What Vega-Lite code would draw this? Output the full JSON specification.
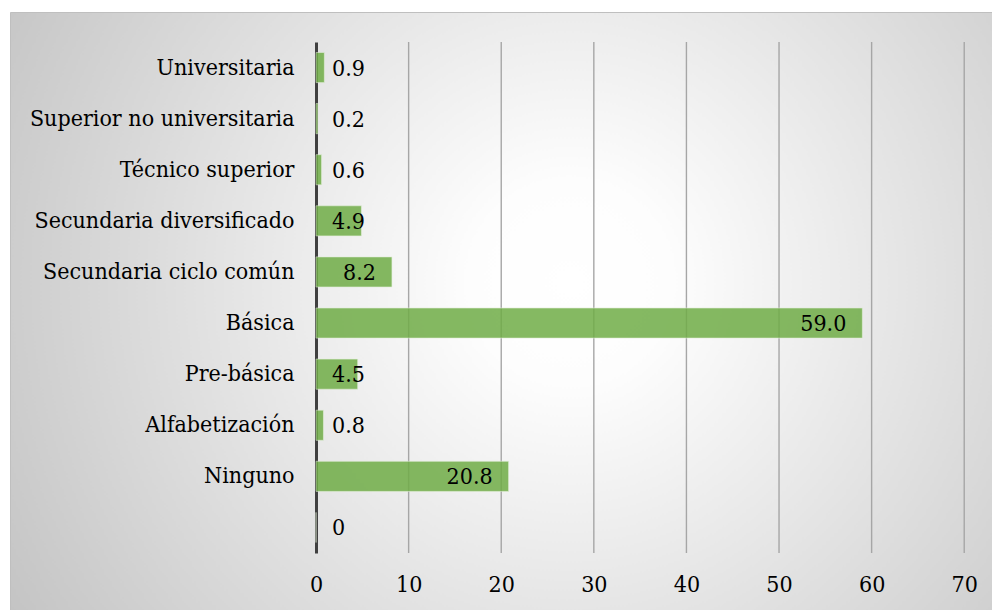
{
  "$schema": "https://vega.github.io/schema/vega-lite/v6.json",
  "autosize": {"type": "none"},
  "width": 982,
  "height": 598,
  "padding": {"left": 10, "top": 12, "right": 0, "bottom": 0},
  "background": "#ffffff",
  "config": {
    "font": "DejaVu Serif Condensed, DejaVu Serif, serif",
    "view": {
      "stroke": "#bfbfbf",
      "strokeWidth": 1,
      "fill": {
        "gradient": "radial",
        "x1": 0.57, "y1": 0.47, "r1": 0,
        "x2": 0.57, "y2": 0.47, "r2": 0.68,
        "stops": [
          {"offset": 0, "color": "#ffffff"},
          {"offset": 0.15, "color": "#fdfdfd"},
          {"offset": 1, "color": "#c2c2c2"}
        ]
      }
    }
  },
  "resolve": {"scale": {"y": "independent"}, "axis": {"y": "independent"}},
  "layer": [
    {
      "data": {"values": [{"g": 10}, {"g": 20}, {"g": 30}, {"g": 40}, {"g": 50}, {"g": 60}, {"g": 70}]},
      "mark": {"type": "rule", "color": "#a6a6a6", "strokeWidth": 1.4},
      "encoding": {
        "x": {"field": "g", "type": "quantitative", "scale": {"domain": [-33.05, 73.0], "nice": false, "zero": false}},
        "y": {"datum": 0, "type": "quantitative", "scale": {"domain": [0, 1], "range": [30, 541], "nice": false, "zero": false}, "axis": null},
        "y2": {"datum": 1}
      }
    },
    {
      "data": {
        "values": [
          {"nivel": "Universitaria", "pct": 0.9, "lbl": "0.9"},
          {"nivel": "Superior no universitaria", "pct": 0.2, "lbl": "0.2"},
          {"nivel": "Técnico superior", "pct": 0.6, "lbl": "0.6"},
          {"nivel": "Secundaria diversificado", "pct": 4.9, "lbl": "4.9"},
          {"nivel": "Secundaria ciclo común", "pct": 8.2, "lbl": "8.2"},
          {"nivel": "Básica", "pct": 59.0, "lbl": "59.0"},
          {"nivel": "Pre-básica", "pct": 4.5, "lbl": "4.5"},
          {"nivel": "Alfabetización", "pct": 0.8, "lbl": "0.8"},
          {"nivel": "Ninguno", "pct": 20.8, "lbl": "20.8"},
          {"nivel": " ", "pct": 0, "lbl": "0"}
        ]
      },
      "encoding": {
        "y": {
          "field": "nivel",
          "type": "nominal",
          "sort": null,
          "scale": {"range": [30, 541], "paddingInner": 0.41, "paddingOuter": 0.205},
          "axis": {
            "title": null,
            "orient": "left",
            "offset": -306,
            "ticks": false,
            "labelPadding": 22,
            "labelFontSize": 23,
            "labelColor": "#000000",
            "labelLimit": 400,
            "domainColor": "#404040",
            "domainWidth": 3,
            "grid": false
          }
        }
      },
      "layer": [
        {
          "mark": {"type": "bar", "color": "#70AD47", "opacity": 0.85, "stroke": "#e2efda", "strokeWidth": 0.8, "strokeOpacity": 0.8},
          "encoding": {
            "x": {
              "field": "pct",
              "type": "quantitative",
              "axis": {
                "title": null,
                "orient": "bottom",
                "offset": -57,
                "values": [0, 10, 20, 30, 40, 50, 60, 70],
                "ticks": false,
                "domain": false,
                "labelPadding": 20,
                "labelFontSize": 23,
                "labelColor": "#000000",
                "grid": false
              }
            }
          }
        },
        {
          "transform": [{"filter": "datum.pct >= 8"}],
          "mark": {"type": "text", "align": "right", "baseline": "middle", "dx": -16, "dy": 1, "fontSize": 23, "color": "#000000"},
          "encoding": {
            "x": {"field": "pct", "type": "quantitative"},
            "text": {"field": "lbl"}
          }
        },
        {
          "transform": [{"filter": "datum.pct < 8"}],
          "mark": {"type": "text", "align": "left", "baseline": "middle", "dx": 16, "dy": 1, "fontSize": 23, "color": "#000000"},
          "encoding": {
            "x": {"datum": 0, "type": "quantitative"},
            "text": {"field": "lbl"}
          }
        }
      ]
    }
  ]
}
